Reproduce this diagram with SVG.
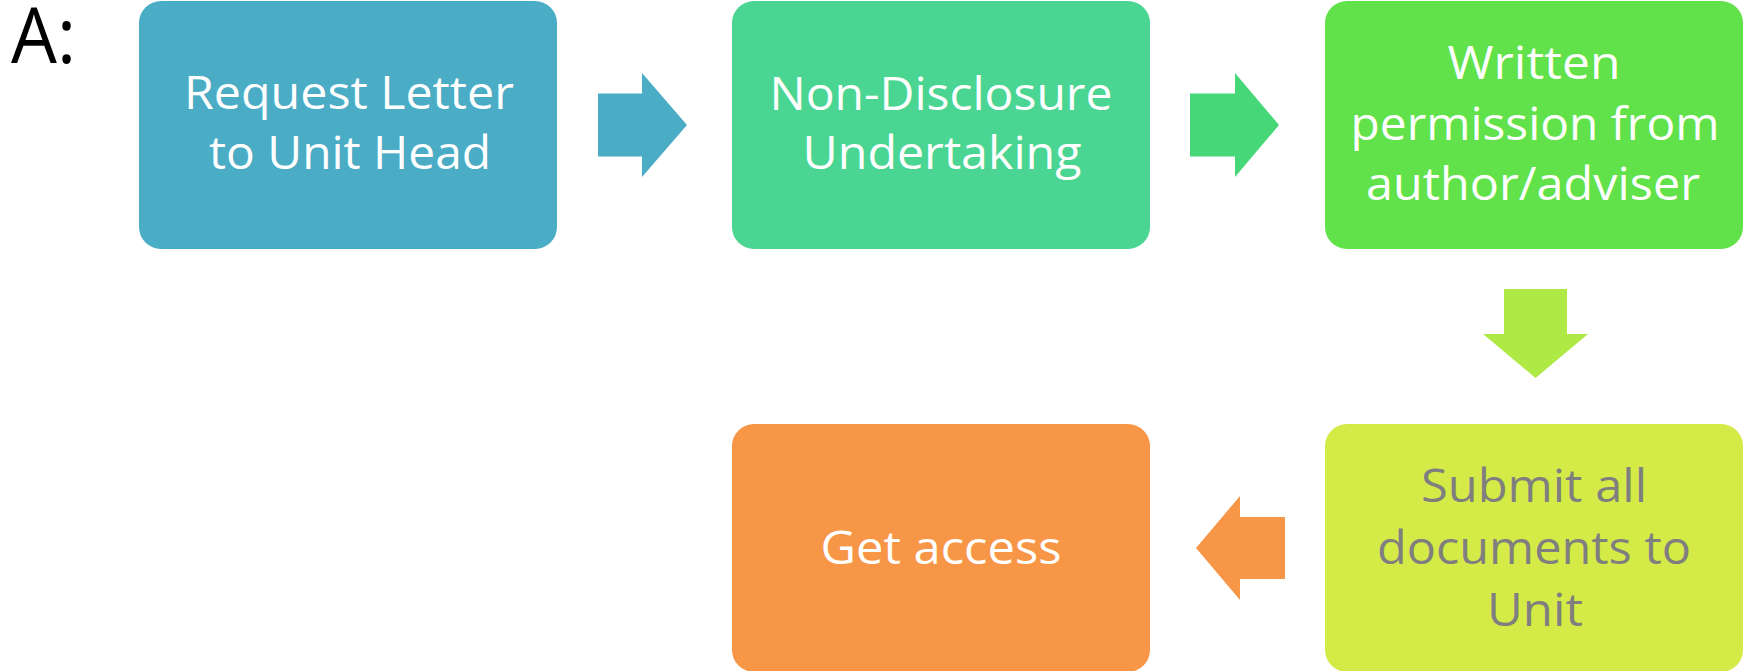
<svg xmlns="http://www.w3.org/2000/svg" width="1746" height="671" viewBox="0 0 1746 671">
  <style>
    .box { stroke: none; }
    .lbl { font-family: "Open Sans", "Noto Sans", "Liberation Sans", sans-serif; font-size: 46px; text-anchor: middle; fill: #ffffff; }
    .dark { fill: #7f7f7f; }
    .tag { font-family: "Open Sans", "Noto Sans", "Liberation Sans", sans-serif; font-size: 77px; fill: #000000; }
  </style>
  <rect width="1746" height="671" fill="#ffffff"/>
  <text class="tag" x="11" y="63" textLength="65" lengthAdjust="spacingAndGlyphs">A:</text>

  <g id="connectors">
    <polygon id="arrow1" fill="#4bacc6" points="598,93.5 642,93.5 642,73 687,125 642,177 642,156.5 598,156.5"/>
    <polygon id="arrow2" fill="#46d878" points="1190,93.5 1235,93.5 1235,73 1279,125 1235,177 1235,156.5 1190,156.5"/>
    <polygon id="arrow3" fill="#aee945" points="1504,289 1567,289 1567,334 1588,334 1535.5,378 1483,334 1504,334"/>
    <polygon id="arrow4" fill="#f79646" points="1285,517 1240,517 1240,496 1196,548 1240,600 1240,579 1285,579"/>
  </g>

  <g id="node-request">
    <rect class="box" x="139" y="1" width="418" height="248" rx="22" fill="#4bacc6"/>
    <text class="lbl" x="349" y="109" textLength="330" lengthAdjust="spacingAndGlyphs">Request Letter</text>
    <text class="lbl" x="350" y="169" textLength="282" lengthAdjust="spacingAndGlyphs">to Unit Head</text>
  </g>

  <g id="node-nda">
    <rect class="box" x="732" y="1" width="418" height="248" rx="22" fill="#4ad593"/>
    <text class="lbl" x="941" y="110" textLength="343" lengthAdjust="spacingAndGlyphs">Non-Disclosure</text>
    <text class="lbl" x="942" y="169" textLength="279" lengthAdjust="spacingAndGlyphs">Undertaking</text>
  </g>

  <g id="node-permission">
    <rect class="box" x="1325" y="1" width="418" height="248" rx="22" fill="#62e24a"/>
    <text class="lbl" x="1534" y="79" textLength="173" lengthAdjust="spacingAndGlyphs">Written</text>
    <text class="lbl" x="1535" y="140" textLength="369" lengthAdjust="spacingAndGlyphs">permission from</text>
    <text class="lbl" x="1533" y="200" textLength="334" lengthAdjust="spacingAndGlyphs">author/adviser</text>
  </g>

  <g id="node-submit">
    <rect class="box" x="1325" y="424" width="418" height="248" rx="22" fill="#d4eb47"/>
    <text class="lbl dark" x="1534" y="502" textLength="226" lengthAdjust="spacingAndGlyphs">Submit all</text>
    <text class="lbl dark" x="1534" y="564" textLength="314" lengthAdjust="spacingAndGlyphs">documents to</text>
    <text class="lbl dark" x="1535" y="626" textLength="96" lengthAdjust="spacingAndGlyphs">Unit</text>
  </g>

  <g id="node-access">
    <rect class="box" x="732" y="424" width="418" height="248" rx="22" fill="#f79646"/>
    <text class="lbl" x="941" y="564" textLength="241" lengthAdjust="spacingAndGlyphs">Get access</text>
  </g>
</svg>
